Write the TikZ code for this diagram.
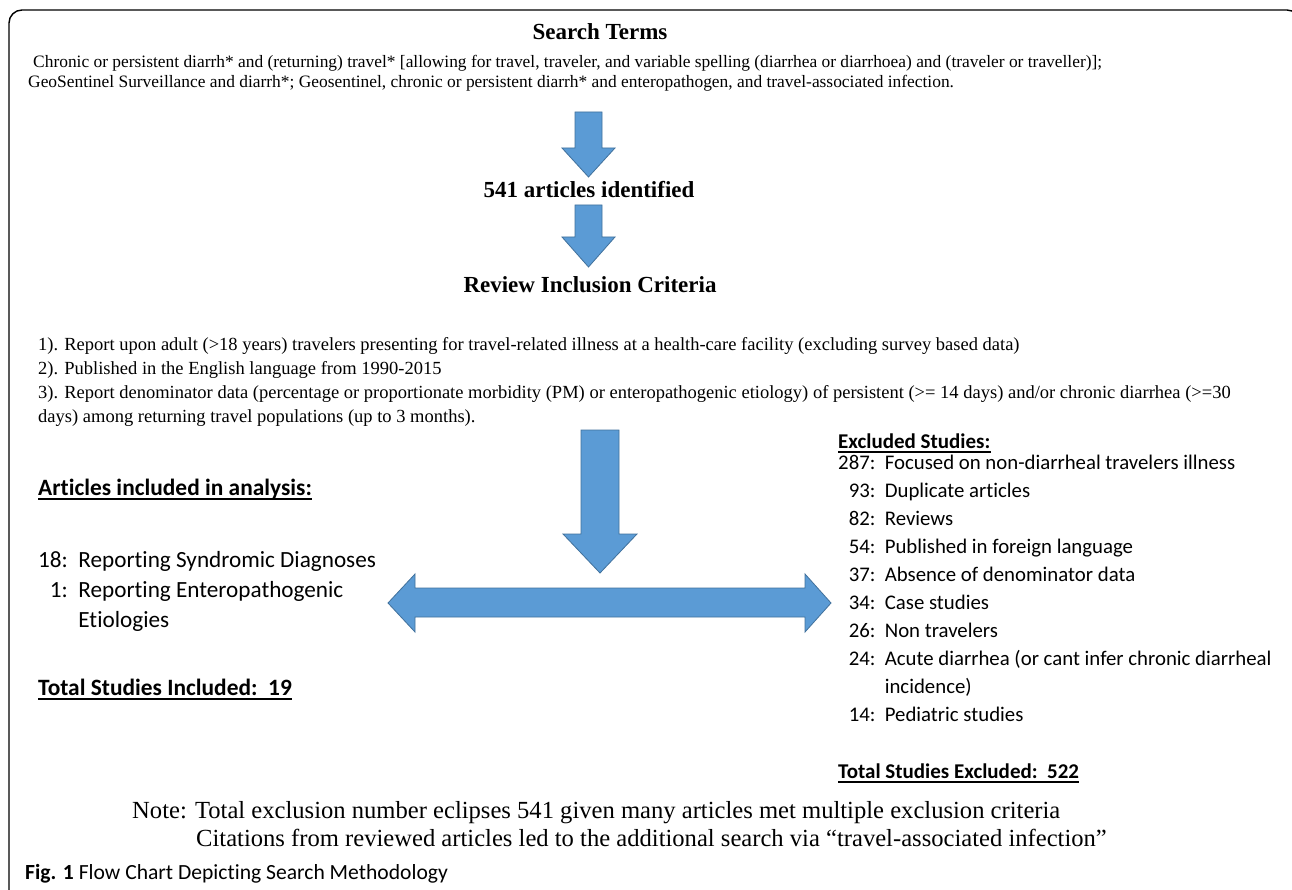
\documentclass[tikz,border=0pt]{standalone}
\usepackage{fontspec}
\setmainfont{Liberation Serif}
\newfontfamily\calfont[Ligatures=NoCommon]{Carlito}
\definecolor{arrowblue}{HTML}{5B9BD5}
\definecolor{arrowedge}{HTML}{41719C}
\begin{document}
\begin{tikzpicture}[x=1pt,y=-1pt,
  head/.style={font=\fontsize{23}{27}\selectfont\bfseries, inner sep=0, anchor=base},
  stxt/.style={font=\fontsize{17.4}{19}\selectfont, inner sep=0, anchor=base west},
  crit/.style={font=\fontsize{18.5}{24}\selectfont, inner sep=0, anchor=base west},
  listR/.style={font=\calfont\fontsize{20.8}{28}\selectfont, inner sep=0, anchor=base west},
  listRb/.style={font=\calfont\bfseries\fontsize{21}{28}\selectfont, inner sep=0, anchor=base west},
  listL/.style={font=\calfont\fontsize{23.2}{30}\selectfont, inner sep=0, anchor=base west},
  listLb/.style={font=\calfont\bfseries\fontsize{23.4}{30}\selectfont, inner sep=0, anchor=base west},
  notetxt/.style={font=\fontsize{24.6}{28}\selectfont, inner sep=0, anchor=base west},
  figcap/.style={font=\calfont\fontsize{21.6}{24}\selectfont, inner sep=0, anchor=base west},
  blockarrow/.style={fill=arrowblue, draw=arrowedge, line width=0.8pt, line join=miter},
  ul/.style={line width=1.8pt}
]
\useasboundingbox (0,0) rectangle (1292,890);
\clip (0,0) rectangle (1292,890);
\fill[white] (0,0) rectangle (1292,890);
% frame
\draw[line width=1.4pt, rounded corners=13pt] (9,905) -- (9,10) -- (1300,10) -- (1300,905);

% search terms
\node[head] (st) at (600,40) {Search Terms};
\node[stxt] (s1) at (33,68) {Chronic or persistent diarrh* and (returning) travel* [allowing for travel, traveler, and variable spelling (diarrhea or diarrhoea) and (traveler or traveller)];};
\node[stxt] (s2) at (28,88) {GeoSentinel Surveillance and diarrh*; Geosentinel, chronic or persistent diarrh* and enteropathogen, and travel-associated infection.};

% arrow 1
\draw[blockarrow] (575,112) -- (602,112) -- (602,148) -- (615,148) -- (588.5,177) -- (562,148) -- (575,148) -- cycle;
\node[head] (ident) at (589,198) {541 articles identified};
% arrow 2
\draw[blockarrow] (575,205) -- (602,205) -- (602,237) -- (615,237) -- (588.5,267) -- (562,237) -- (575,237) -- cycle;
\node[head] (rev) at (590,293) {Review Inclusion Criteria};

% criteria
\node[crit] (c1) at (38,350) {1). Report upon adult (>18 years) travelers presenting for travel-related illness at a health-care facility (excluding survey based data)};
\node[crit] (c2) at (38,374) {2). Published in the English language from 1990-2015};
\node[crit] (c3) at (38,398) {3). Report denominator data (percentage or proportionate morbidity (PM) or enteropathogenic etiology) of persistent (>= 14 days) and/or chronic diarrhea (>=30};
\node[crit] (c4) at (38,422) {days) among returning travel populations (up to 3 months).};

% big down arrow
\draw[blockarrow] (581,430) -- (619,430) -- (619,534) -- (637,534) -- (600,573) -- (563,534) -- (581,534) -- cycle;
% double arrow
\draw[blockarrow] (388,603) -- (415,574) -- (415,588) -- (805,588) -- (805,574) -- (831,603) -- (805,632) -- (805,617) -- (415,617) -- (415,632) -- cycle;

% left side
\node[listLb] (inc) at (38,495) {Articles included in analysis:};
\draw[ul] ([yshift=-4pt]inc.base west) -- ([yshift=-4pt]inc.base east);
\node[listL] (incl) at (38,567) {\begin{tabular}[t]{@{}r@{\ \ }l@{}}18: & Reporting Syndromic Diagnoses\\ 1: & Reporting Enteropathogenic\\ & Etiologies\end{tabular}};
\node[listLb] (tinc) at (38,695) {Total Studies Included:\ \ 19};
\draw[ul] ([yshift=-4pt]tinc.base west) -- ([yshift=-4pt]tinc.base east);

% right side
\node[listRb] (exc) at (838,448) {Excluded Studies:};
\draw[ul] ([yshift=-4pt]exc.base west) -- ([yshift=-4pt]exc.base east);
\node[listR] (excl) at (838,469) {\begin{tabular}[t]{@{}r@{\ \ }l@{}}287: & Focused on non-diarrheal travelers illness\\ 93: & Duplicate articles\\ 82: & Reviews\\ 54: & Published in foreign language\\ 37: & Absence of denominator data\\ 34: & Case studies\\ 26: & Non travelers\\ 24: & Acute diarrhea (or cant infer chronic diarrheal\\ & incidence)\\ 14: & Pediatric studies\end{tabular}};
\node[listRb] (texc) at (838,778) {Total Studies Excluded:\ \ 522};
\draw[ul] ([yshift=-4pt]texc.base west) -- ([yshift=-4pt]texc.base east);

% note
\node[notetxt] (n1) at (132,818) {Note: Total exclusion number eclipses 541 given many articles met multiple exclusion criteria};
\node[notetxt] (n2) at (196,846) {Citations from reviewed articles led to the additional search via “travel-associated infection”};

% caption
\node[figcap] (fig) at (25,879) {\textbf{Fig. 1} Flow Chart Depicting Search Methodology};
\end{tikzpicture}
\end{document}
